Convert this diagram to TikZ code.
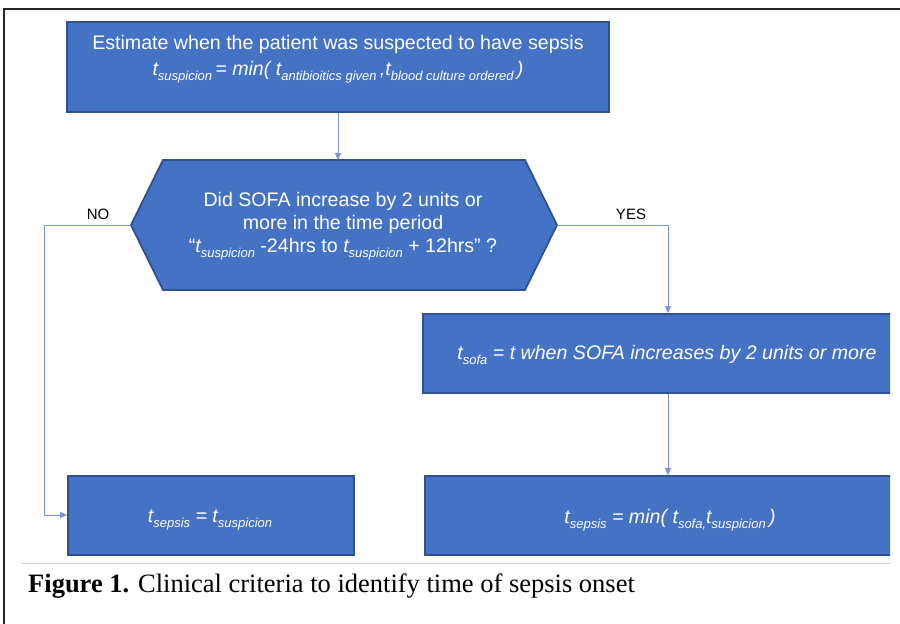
\documentclass[tikz,border=0pt]{standalone}
\usepackage{fontspec}
\setmainfont{Liberation Serif}
\setsansfont{Liberation Sans}
\usetikzlibrary{arrows.meta}
\definecolor{boxfill}{HTML}{4472C4}
\definecolor{boxborder}{HTML}{2F528F}
\definecolor{linecol}{HTML}{7496D4}
\newcommand{\sbs}[1]{\raisebox{-0.45ex}{\fontsize{13}{13}\selectfont #1}}
\begin{document}
\begin{tikzpicture}[x=1pt,y=-1pt,
  box/.style={draw=boxborder, line width=1.8pt, fill=boxfill, inner sep=0pt},
  txt/.style={text=white, font=\sffamily\fontsize{19.6}{23}\selectfont, align=center, inner sep=0pt},
  lbl/.style={font=\sffamily\fontsize{15}{15}\selectfont, inner sep=0pt},
  conn/.style={draw=linecol, line width=0.9pt, -{Triangle[length=7pt,width=6pt]}},
  plain/.style={draw=linecol, line width=0.9pt}]
\useasboundingbox (0,0) rectangle (900,624);
\draw[line width=1.4pt, black!85] (4,624) -- (4,9) -- (900,9);

\begin{scope}
\clip (0,0) rectangle (890,624);
% top box
\node[box, minimum width=542pt, minimum height=90pt] (top) at (338,67) {};
\node[txt, font=\sffamily\fontsize{19.6}{26}\selectfont] (toptext) at (338,59) {Estimate when the patient was suspected to have sepsis\\
\textit{t\sbs{suspicion}\,= min( t\sbs{antibioitics given}\,,t\sbs{blood culture ordered}\,)}};
% hexagon
\draw[box] (163,160) -- (525,160) -- (557,225) -- (525,290) -- (163,290) -- (131,225) -- cycle;
\coordinate (hexT) at (338,160);
\coordinate (hexL) at (131,225);
\coordinate (hexR) at (557,225);
\node[txt] (dec) at (343,226) {Did SOFA increase by 2 units or\\ more in the time period\\
``\textit{t\sbs{suspicion}} -24hrs to \textit{t\sbs{suspicion}} + 12hrs'' ?};
% sofa box
\node[box, minimum width=477pt, minimum height=79pt] (sofa) at (661.5,353.5) {};
\node[txt] (sofatext) at (667,355) {\textit{t\sbs{sofa} = t when SOFA increases by 2 units or more}};
% bottom boxes
\node[box, minimum width=286pt, minimum height=79pt] (bl) at (211,515.5) {};
\node[txt] (bltext) at (210,520) {\textit{t\sbs{sepsis} = t\sbs{suspicion}}};
\node[box, minimum width=475pt, minimum height=79pt] (br) at (662.5,515.5) {};
\node[txt] (brtext) at (670,520) {\textit{t\sbs{sepsis} = min( t\sbs{sofa,}t\sbs{suspicion}\,)}};
\end{scope}

% connectors
\draw[conn] (top.south) -- (hexT);
\coordinate (noC) at (44,225);
\coordinate (noD) at (44,515);
\draw[conn] (hexL) -- (noC) -- (noD) -- (noD -| bl.west);
\coordinate (yesC) at (668,225);
\draw[conn] (hexR) -- (yesC) -- (yesC |- sofa.north);
\draw[conn] (sofa.south -| yesC) -- (br.north -| yesC);
\node[lbl] (no) at (98,214) {NO};
\node[lbl] (yes) at (631,214) {YES};

% caption
\draw[black!20, line width=0.8pt] (22,563) -- (890,563);
\node[anchor=base west, inner sep=0pt, font=\fontsize{26.5}{26.5}\selectfont] (cap) at (28,592) {\textbf{Figure 1.} Clinical criteria to identify time of sepsis onset};
\end{tikzpicture}
\end{document}
